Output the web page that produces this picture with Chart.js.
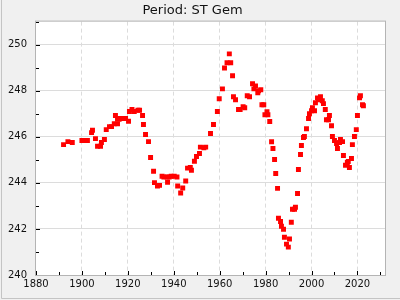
<!DOCTYPE html>
<html>
<head>
<meta charset="utf-8">
<script src="https://cdn.jsdelivr.net/npm/chart.js@4/dist/chart.umd.min.js"></script>
<style>
  body { margin: 0; background: #f0f0f0; }
  canvas { display: block; }
</style>
</head>
<body>
<canvas id="grafico" width="400" height="300"></canvas>
<script>
// Dados (ano, período)
const anos = [
    1892.0, 1893.9, 1895.8, 1900.0, 1901.1, 1902.4, 1904.2, 1904.6, 1905.9, 1906.8,
    1908.1, 1908.5, 1909.8, 1910.6, 1912.0, 1912.9, 1914.1, 1914.6, 1915.5, 1915.5,
    1916.2, 1917.5, 1919.0, 1920.3, 1920.7, 1921.8, 1922.8, 1924.4, 1925.1, 1926.4,
    1926.8, 1927.7, 1929.0, 1929.9, 1931.2, 1931.6, 1932.9, 1933.8, 1934.9, 1935.7,
    1937.1, 1937.3, 1938.0, 1938.9, 1940.2, 1941.4, 1941.7, 1943.0, 1943.9, 1945.2,
    1946.0, 1947.2, 1947.7, 1949.0, 1949.9, 1951.2, 1951.6, 1953.1, 1953.9, 1956.0,
    1957.3, 1959.0, 1959.8, 1961.2, 1962.1, 1963.2, 1964.2, 1964.8, 1965.6, 1966.0,
    1966.9, 1968.2, 1968.9, 1970.2, 1970.9, 1972.0, 1973.0, 1974.3, 1974.9, 1975.6,
    1976.6, 1976.9, 1977.9, 1978.4, 1979.2, 1979.7, 1980.6, 1981.0, 1981.8, 1982.6,
    1983.2, 1983.9, 1984.4, 1985.2, 1985.6, 1986.5, 1986.9, 1987.8, 1988.2, 1989.1,
    1989.9, 1990.4, 1991.2, 1991.7, 1992.6, 1993.0, 1993.9, 1994.3, 1995.2, 1995.6,
    1996.5, 1996.9, 1997.8, 1998.7, 1999.1, 2000.0, 2000.4, 2001.3, 2001.7, 2002.6,
    2003.0, 2003.9, 2004.7, 2005.2, 2006.0, 2006.5, 2007.4, 2007.8, 2008.7, 2009.1,
    2010.0, 2010.9, 2011.3, 2012.2, 2012.6, 2013.5, 2013.9, 2014.8, 2015.6, 2016.0,
    2016.5, 2017.4, 2017.8, 2018.7, 2019.5, 2020.0, 2020.9, 2021.3, 2022.2, 2022.6
];
const periodos = [
    245.66, 245.79, 245.75, 245.84, 245.84, 245.84, 246.18, 246.28, 245.92, 245.59,
    245.59, 245.75, 245.88, 246.31, 246.44, 246.44, 246.57, 246.92, 246.79, 246.57,
    246.76, 246.79, 246.79, 246.67, 247.10, 247.18, 247.10, 247.15, 247.15, 246.92,
    246.53, 246.10, 245.79, 245.10, 244.50, 244.01, 243.86, 243.89, 244.29, 244.25,
    244.25, 244.03, 244.25, 244.29, 244.29, 244.25, 243.86, 243.56, 243.78, 244.08,
    244.64, 244.67, 244.55, 244.94, 245.14, 245.27, 245.55, 245.52, 245.55, 246.14,
    246.53, 247.10, 247.65, 248.08, 248.99, 249.21, 249.60, 249.21, 248.65, 247.74,
    247.61, 247.18, 247.18, 247.31, 247.26, 247.78, 247.74, 248.30, 248.08, 248.21,
    247.91, 248.00, 248.04, 247.39, 247.39, 246.96, 247.09, 246.96, 246.66, 245.78,
    245.49, 245.01, 244.41, 243.76, 242.46, 242.32, 242.12, 241.99, 241.64, 241.34,
    241.21, 241.56, 242.29, 242.85, 242.85, 242.94, 243.54, 244.58, 245.23, 245.62,
    245.97, 246.01, 246.35, 246.79, 247.00, 247.13, 247.26, 247.13, 247.48, 247.69,
    247.61, 247.74, 247.56, 247.44, 247.18, 246.74, 246.74, 246.92, 246.48, 246.01,
    245.84, 245.71, 245.49, 245.75, 245.88, 245.79, 245.19, 244.76, 244.88, 244.93,
    244.67, 245.06, 245.66, 246.01, 246.31, 246.92, 247.69, 247.78, 247.39, 247.35
];

const titulo = 'Period: ST Gem';
const xMin = 1880, xMax = 2032, xPasso = 10, xRotulo = 20;
const yMin = 240, yMax = 251, yPasso = 1, yRotulo = 2;

const fonte = { family: 'DejaVu Sans', size: 10 };
const corTexto = '#111';
const corGrade = '#dcdcdc';

// Fundo cinza, área branca, moldura e marcas de escala voltadas para dentro
const molduraPlugin = {
    id: 'moldura',
    beforeDraw(chart) {
        const ctx = chart.ctx;
        const a = chart.chartArea;
        ctx.save();
        ctx.fillStyle = '#f0f0f0';
        ctx.fillRect(0, 0, chart.width, chart.height);
        ctx.fillStyle = '#ffffff';
        ctx.fillRect(a.left, a.top, a.right - a.left, a.bottom - a.top);
        ctx.restore();
    },
    afterDraw(chart) {
        const ctx = chart.ctx;
        const a = chart.chartArea;
        ctx.save();
        ctx.lineWidth = 1;
        // marcas do eixo y
        ctx.strokeStyle = '#000';
        chart.scales.y.ticks.forEach(t => {
            const py = Math.round(chart.scales.y.getPixelForValue(t.value)) + 0.5;
            const len = t.value % yRotulo === 0 ? 4 : 3;
            ctx.beginPath();
            ctx.moveTo(a.left, py);
            ctx.lineTo(a.left + len, py);
            ctx.stroke();
        });
        // marcas do eixo x
        chart.scales.x.ticks.forEach(t => {
            const px = Math.round(chart.scales.x.getPixelForValue(t.value)) + 0.5;
            const len = t.value % xRotulo === 0 ? 4 : 3;
            ctx.beginPath();
            ctx.moveTo(px, a.bottom);
            ctx.lineTo(px, a.bottom - len);
            ctx.stroke();
        });
        // moldura da área do gráfico
        ctx.strokeStyle = '#b4b4b4';
        ctx.strokeRect(a.left - 0.5, a.top - 0.5, a.right - a.left + 1, a.bottom - a.top + 1);
        // borda externa (esquerda e baixo)
        ctx.strokeStyle = '#c4c4c4';
        ctx.beginPath();
        ctx.moveTo(1.5, 0);
        ctx.lineTo(1.5, 298.5);
        ctx.lineTo(chart.width, 298.5);
        ctx.stroke();
        ctx.restore();
    }
};

const dados = anos.map((ano, i) => ({ x: ano, y: periodos[i] }));

const grafico = new Chart(document.getElementById('grafico'), {
    type: 'scatter',
    data: {
        datasets: [{
            data: dados,
            pointStyle: 'rect',
            pointRadius: 3.5,
            pointBorderWidth: 0,
            backgroundColor: '#ff0000',
            borderColor: '#ff0000'
        }]
    },
    options: {
        responsive: false,
        animation: false,
        devicePixelRatio: 1,
        layout: { padding: { left: 0, right: 15, top: 0, bottom: 0 } },
        plugins: {
            legend: { display: false },
            tooltip: { enabled: false },
            title: {
                display: true,
                text: titulo,
                color: corTexto,
                font: { family: 'DejaVu Sans', size: 13, weight: 'normal' },
                padding: { top: 3, bottom: 3 }
            }
        },
        scales: {
            x: {
                type: 'linear',
                min: xMin,
                max: xMax,
                afterFit(scale) { scale.height = 25; },
                ticks: {
                    stepSize: xPasso,
                    includeBounds: false,
                    autoSkip: false,
                    maxRotation: 0,
                    padding: 3,
                    color: corTexto,
                    font: fonte,
                    callback: v => (v % xRotulo === 0 ? String(v) : '')
                },
                grid: {
                    drawTicks: false,
                    color: c => (c.tick && c.tick.value % xRotulo === 0 && c.tick.value > xMin ? corGrade : 'rgba(0,0,0,0)')
                },
                border: { display: false, dash: [4, 3] }
            },
            y: {
                min: yMin,
                max: yMax,
                afterFit(scale) { scale.width = 36; },
                ticks: {
                    stepSize: yPasso,
                    includeBounds: false,
                    autoSkip: false,
                    padding: 9,
                    color: corTexto,
                    font: fonte,
                    callback: v => (v % yRotulo === 0 ? String(v) : '')
                },
                grid: {
                    drawTicks: false,
                    color: c => (c.tick && c.tick.value % yRotulo === 0 && c.tick.value > yMin ? corGrade : 'rgba(0,0,0,0)')
                },
                border: { display: false }
            }
        }
    },
    plugins: [molduraPlugin]
});
</script>
</body>
</html>
